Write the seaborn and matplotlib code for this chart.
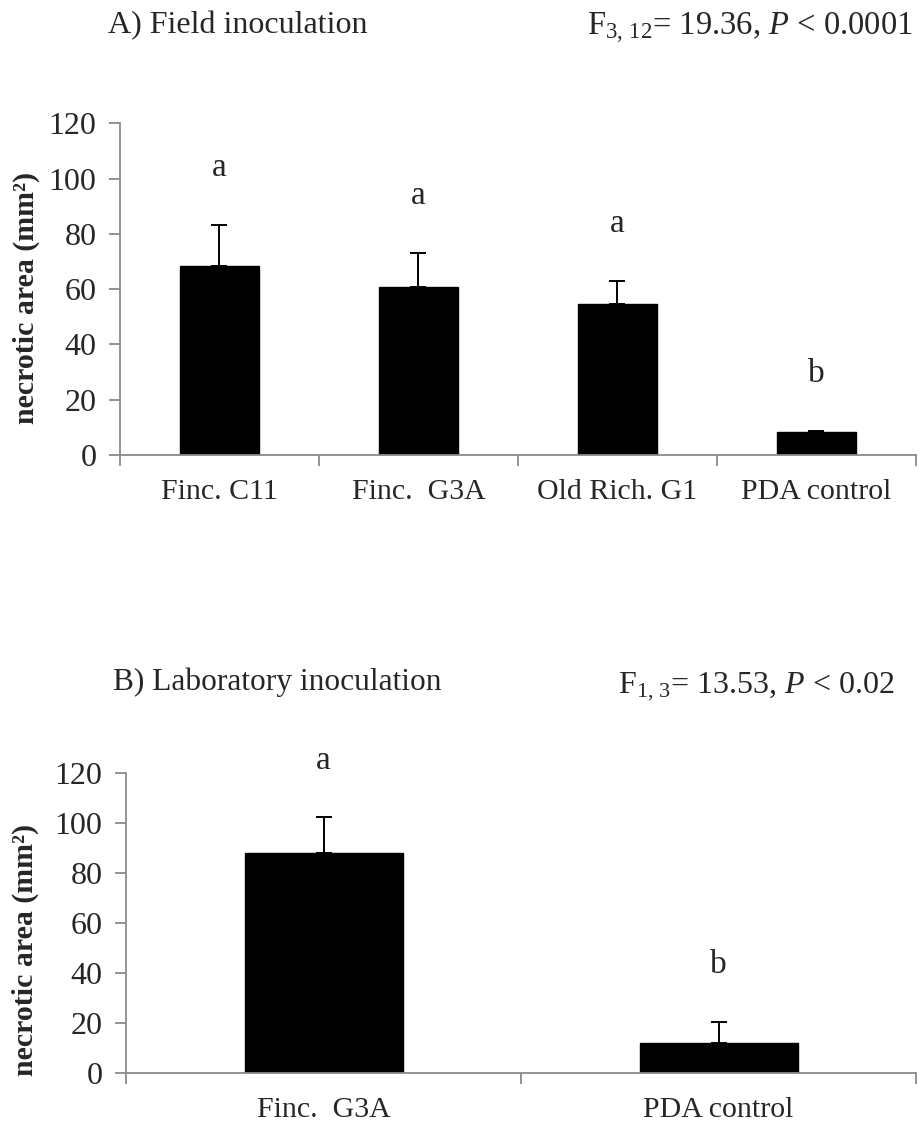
import numpy as np
import pandas as pd
import matplotlib
matplotlib.use("Agg")
import matplotlib.pyplot as plt
import seaborn as sns

# --- Data ---
field_strains = ["Finc. C11", "Finc.  G3A", "Old Rich. G1", "PDA control"]
field_means = [68.4, 60.9, 54.5, 8.2]
field_se = [14.8, 12.3, 8.5, 0.6]
field_letters = ["a", "a", "a", "b"]

lab_strains = ["Finc.  G3A", "PDA control"]
lab_means = [88.0, 12.0]
lab_se = [14.4, 8.6]
lab_letters = ["a", "b"]

y_ticks = [0, 20, 40, 60, 80, 100, 120]

sns.set_style("ticks")
plt.rcParams['font.family'] = ['Liberation Serif', 'DejaVu Serif']
plt.rcParams['mathtext.fontset'] = 'custom'
plt.rcParams['mathtext.rm'] = 'Liberation Serif'
plt.rcParams['mathtext.it'] = 'Liberation Serif:italic'

SPINE = "#8a8a8a"


def draw_panel(ax, strains, means, se, letters, label_x, label_y):
    df = pd.DataFrame({"strain": strains, "area": means})
    sns.barplot(data=df, x="strain", y="area", color="black", width=0.4,
                edgecolor="black", linewidth=1, saturation=1, errorbar=None, ax=ax)
    xs = np.arange(len(strains))
    # upper error bars only
    ax.errorbar(xs, means, yerr=[np.zeros(len(se)), se], fmt="none",
                ecolor="black", elinewidth=1.4, capsize=6, capthick=1.4)
    for x, m, s, lab in zip(xs, means, se, letters):
        ax.annotate(lab, (x, m + s), xytext=(0, 35), textcoords="offset points",
                    ha="center", va="baseline", fontsize=24, annotation_clip=False)

    ax.set_xlim(-0.5, len(strains) - 0.5)
    ax.set_ylim(0, 120)
    ax.set_yticks(y_ticks)
    ax.set_yticklabels([str(v) for v in y_ticks], fontsize=23)
    # major ticks between categories, labels on minor ticks
    ax.set_xticks(np.arange(len(strains) + 1) - 0.5)
    ax.set_xticklabels([])
    ax.set_xticks(xs, minor=True)
    ax.set_xticklabels(strains, minor=True, fontsize=21.5)
    ax.tick_params(axis="x", which="minor", length=0, pad=17)
    ax.tick_params(axis="x", which="major", length=8, width=1.3, color=SPINE)
    ax.tick_params(axis="y", length=8, width=1.3, color=SPINE, pad=9)
    ax.set_xlabel("")
    ax.set_ylabel("necrotic area (mm²)", fontsize=21.5, fontweight="bold")
    ax.yaxis.set_label_coords(label_x, label_y)
    sns.despine(ax=ax)
    for sp in ["left", "bottom"]:
        ax.spines[sp].set_color(SPINE)
        ax.spines[sp].set_linewidth(1.3)


fig = plt.figure(figsize=(9.2, 11.23), dpi=100)
ax_a = fig.add_axes([0.1304, 0.5948, 0.8652, 0.2954])
ax_b = fig.add_axes([0.1370, 0.0443, 0.8587, 0.2671])

draw_panel(ax_a, field_strains, field_means, field_se, field_letters, -0.100, 0.475)
draw_panel(ax_b, lab_strains, lab_means, lab_se, lab_letters, -0.110, 0.41)

fig.text(108 / 920, 1 - 33 / 1123, "A) Field inoculation", fontsize=23, ha="left", va="baseline")
fig.text(913 / 920, 1 - 35 / 1123, r"F$_{3,\,12}$= 19.36, $P$ < 0.0001", fontsize=23.5, ha="right", va="baseline")
fig.text(113 / 920, 1 - 690 / 1123, "B) Laboratory inoculation", fontsize=22.6, ha="left", va="baseline")
fig.text(895 / 920, 1 - 693 / 1123, r"F$_{1,\,3}$= 13.53, $P$ < 0.02", fontsize=23, ha="right", va="baseline")

fig.savefig("out.png", dpi=100)
plt.close(fig)
